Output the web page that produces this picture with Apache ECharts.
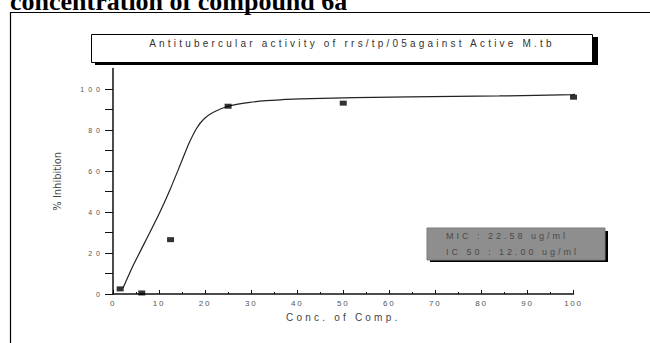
<!DOCTYPE html>
<html>
<head>
<meta charset="utf-8">
<script src="https://cdn.jsdelivr.net/npm/echarts@6/dist/echarts.min.js"></script>
<style>
  html, body { margin: 0; padding: 0; background: #fff; }
  #main { width: 650px; height: 343px; }
  /* the scanned figure has widely spaced sans text */
  #main text[style*="10px"] { letter-spacing: 3.2px; }
  #main text[style*="9px"] { letter-spacing: 3px; }
  #main text[style*="8px"] { letter-spacing: 1.8px; }
  #main text[style*="7px"] { letter-spacing: 4px; }
</style>
</head>
<body>
<div id="main"></div>
<script>
const heading = 'concentration of compound 6a';
const chartTitle = 'Antitubercular activity of rrs/tp/05against Active M.tb';
const infoLines = ['MIC : 22.58 ug/ml', 'IC 50 : 12.00 ug/ml'];

// measured points: concentration (ug/ml) and % inhibition
const concValues = [1.56, 6.25, 12.5, 25, 50, 100];
const inhibitionValues = [2.5, 0.5, 26.5, 91.6, 93.1, 96.0];

// fitted curve
const fitConc = [2.2, 4.4, 8.0, 10.2, 12.4, 14.6, 16.5, 18.2, 19.8, 21.8, 25, 29.7, 33.3, 40.6, 64.4, 83.9, 99.8, 109.3];
const fitInhibition = [3.0, 14, 30, 40, 51, 63, 73.5, 81, 85.5, 88.7, 91.6, 93.5, 94.3, 95.2, 96.2, 96.6, 97.3, 98.0];

// axis ticks / labels
const yTicks = [0, 10, 20, 30, 40, 50, 60, 70, 80, 90, 100];
const yLabels = [0, 20, 40, 60, 80, 100];

const axisColor = '#111';
const labelColor = '#555';

const chartsDom = document.getElementById('main');
const mychart = echarts.init(chartsDom, null, { renderer: 'svg' });

const option = {
  animation: false,
  grid: {
    left: 113,
    right: 76.5,
    top: 68.5,
    bottom: 49,
  },
  xAxis: {
    type: 'value',
    min: 0,
    max: 100,
    interval: 10,
    name: 'Conc. of Comp.',
    nameLocation: 'middle',
    nameGap: 18,
    nameTextStyle: {
      fontSize: 10,
      fontFamily: 'Liberation Sans',
      color: '#444',
    },
    axisLine: {
      lineStyle: { color: axisColor, width: 1.5 },
    },
    axisTick: {
      inside: true,
      length: 4,
      lineStyle: { color: axisColor },
    },
    minorTick: {
      show: true,
      splitNumber: 2,
      length: 2,
      lineStyle: { color: axisColor },
    },
    axisLabel: {
      fontSize: 8,
      fontFamily: 'Liberation Sans',
      color: labelColor,
      margin: 5,
    },
    splitLine: { show: false },
  },
  yAxis: {
    type: 'value',
    min: 0,
    max: 110,
    interval: 10,
    name: '% Inhibition',
    nameLocation: 'middle',
    nameGap: 50,
    nameTextStyle: {
      fontSize: 11,
      fontFamily: '"Liberation Sans Narrow", "DejaVu Sans Condensed", "Liberation Sans"',
      color: '#444',
    },
    axisLine: {
      show: true,
      lineStyle: { color: axisColor, width: 1.5 },
    },
    axisTick: {
      show: true,
      length: 8,
      customValues: yTicks,
      lineStyle: { color: axisColor },
    },
    axisLabel: {
      fontSize: 7,
      fontFamily: 'Liberation Sans',
      color: labelColor,
      margin: 9,
      customValues: yLabels,
    },
    splitLine: { show: false },
  },
  series: [
    {
      name: 'fit',
      type: 'line',
      data: fitConc.map((x, i) => [x, fitInhibition[i]]),
      showSymbol: false,
      smooth: 0.2,
      clip: false,
      silent: true,
      lineStyle: { color: '#222', width: 1.2 },
    },
    {
      name: 'measured',
      type: 'scatter',
      data: concValues.map((x, i) => [x, inhibitionValues[i]]),
      symbol: 'rect',
      symbolSize: [7, 5],
      itemStyle: { color: '#000' },
      z: 3,
    },
  ],
  graphic: [
    // outer frame of the figure
    {
      type: 'rect',
      shape: { x: 10.5, y: 12.5, width: 700, height: 400 },
      style: { fill: 'none', stroke: '#000', lineWidth: 1.2 },
    },
    {
      type: 'text',
      x: 10,
      y: 1.5,
      style: {
        text: heading,
        fontSize: 26,
        fontWeight: 'bold',
        fontFamily: 'Liberation Serif',
        fill: '#000',
        verticalAlign: 'middle',
      },
    },
    // title box with drop shadow
    {
      type: 'rect',
      z: 100,
      shape: { x: 95, y: 37, width: 503, height: 28 },
      style: { fill: '#000' },
    },
    {
      type: 'rect',
      z: 101,
      shape: { x: 91.5, y: 34.5, width: 501, height: 28 },
      style: { fill: '#fff', stroke: '#000', lineWidth: 1 },
    },
    {
      type: 'text',
      z: 102,
      x: 352,
      y: 43,
      style: {
        text: chartTitle,
        fontSize: 10,
        fontFamily: 'Liberation Sans',
        fill: '#333',
        align: 'center',
        verticalAlign: 'middle',
      },
    },
    // MIC / IC50 box
    {
      type: 'rect',
      z: 100,
      shape: { x: 430, y: 231, width: 178, height: 31 },
      style: { fill: '#000' },
    },
    {
      type: 'rect',
      z: 101,
      shape: { x: 427, y: 228, width: 178, height: 32 },
      style: { fill: '#8e8e8e', stroke: '#7a7a7a', lineWidth: 1 },
    },
    {
      type: 'text',
      z: 102,
      x: 446,
      y: 236,
      style: {
        text: infoLines[0],
        fontSize: 9,
        fontFamily: 'Liberation Sans',
        fill: '#4a4a4a',
        align: 'left',
        verticalAlign: 'middle',
      },
    },
    {
      type: 'text',
      z: 102,
      x: 446,
      y: 252,
      style: {
        text: infoLines[1],
        fontSize: 9,
        fontFamily: 'Liberation Sans',
        fill: '#4a4a4a',
        align: 'left',
        verticalAlign: 'middle',
      },
    },
  ],
};

mychart.setOption(option);

window.addEventListener('resize', () => {
  mychart.resize();
});
</script>
</body>
</html>
